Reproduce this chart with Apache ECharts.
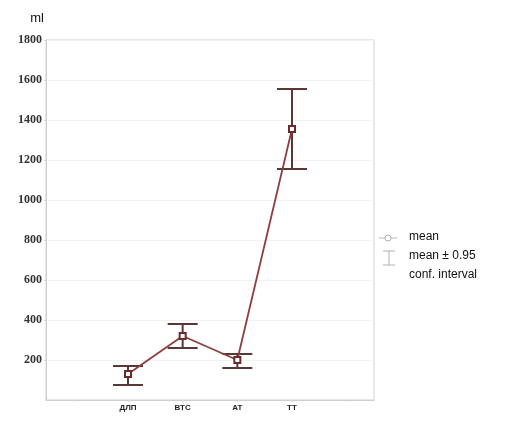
<!DOCTYPE html>
<html><head><meta charset="utf-8">
<script src="https://cdn.jsdelivr.net/npm/echarts@6/dist/echarts.min.js"></script>
<style>html,body{margin:0;padding:0;background:#fff}#c{width:508px;height:424px}</style>
</head><body><div id="c"></div>
<script>
const categories = ['', 'ДЛП', 'ВТС', 'АТ', 'ТТ', ''];
const meanValues = [null, 130, 320, 200, 1355, null];
const lowerCI = [null, 75, 260, 160, 1155, null];
const upperCI = [null, 170, 380, 230, 1555, null];
const yTicks = [200, 400, 600, 800, 1000, 1200, 1400, 1600, 1800];
const legendLabels = ['mean', 'mean ± 0.95', 'conf. interval'];

const errData = [];
for (let i = 0; i < categories.length; i++) {
  if (meanValues[i] != null) errData.push([i, lowerCI[i], upperCI[i]]);
}

const chart = echarts.init(document.getElementById('c'));
const legendFont = { fill: '#111', fontFamily: 'Liberation Sans', fontSize: 12 };
chart.setOption({
  animation: false,
  backgroundColor: '#fff',
  grid: { left: 46, right: 134, top: 40, bottom: 24, show: true, borderColor: '#d0d0d0', borderWidth: 1 },
  xAxis: {
    type: 'category', data: categories, boundaryGap: true,
    axisLine: { lineStyle: { color: '#cfcfcf' } },
    axisTick: { show: true, alignWithLabel: true, length: 2, lineStyle: { color: '#ddd' } },
    axisLabel: { color: '#222', fontFamily: 'Liberation Sans', fontSize: 8, fontWeight: 'bold', margin: 4, interval: 0 },
    splitLine: { show: false }
  },
  yAxis: {
    type: 'value', min: 0, max: 1800, interval: 200,
    name: 'ml', nameLocation: 'end', nameGap: 15,
    nameTextStyle: { color: '#111', fontFamily: 'Liberation Sans', fontSize: 13, align: 'right', padding: [0, 2, 0, 0] },
    axisLine: { show: true, lineStyle: { color: '#cfcfcf' } },
    axisTick: { show: true, length: 2, lineStyle: { color: '#ddd' } },
    axisLabel: {
      color: '#333', fontFamily: 'Liberation Serif', fontSize: 12, fontWeight: 'bold', margin: 4,
      showMinLabel: false,
      formatter: v => yTicks.indexOf(v) >= 0 ? String(v) : ''
    },
    splitLine: { show: true, lineStyle: { color: '#f2f2f2' } }
  },
  graphic: [
    { type: 'line', shape: { x1: 379, y1: 238, x2: 385, y2: 238 }, style: { stroke: '#b8b8b8', lineWidth: 1 } },
    { type: 'line', shape: { x1: 391, y1: 238, x2: 397, y2: 238 }, style: { stroke: '#b8b8b8', lineWidth: 1 } },
    { type: 'circle', shape: { cx: 388, cy: 238, r: 3 }, style: { fill: '#fff', stroke: '#b0b0b0', lineWidth: 1 } },
    { type: 'line', shape: { x1: 383, y1: 251, x2: 395, y2: 251 }, style: { stroke: '#b0b0b0', lineWidth: 1 } },
    { type: 'line', shape: { x1: 389, y1: 251, x2: 389, y2: 265 }, style: { stroke: '#b0b0b0', lineWidth: 1 } },
    { type: 'line', shape: { x1: 383, y1: 265, x2: 395, y2: 265 }, style: { stroke: '#b0b0b0', lineWidth: 1 } },
    { type: 'text', left: 409, top: 231, style: Object.assign({ text: legendLabels[0] }, legendFont) },
    { type: 'text', left: 409, top: 250, style: Object.assign({ text: legendLabels[1] }, legendFont) },
    { type: 'text', left: 409, top: 269, style: Object.assign({ text: legendLabels[2] }, legendFont) }
  ],
  series: [
    {
      name: 'conf',
      type: 'custom',
      data: errData,
      z: 3,
      renderItem: function (params, api) {
        const x = api.value(0);
        const lo = api.coord([x, api.value(1)]);
        const hi = api.coord([x, api.value(2)]);
        const hw = 15;
        const st = { stroke: '#5a3838', lineWidth: 2 };
        return {
          type: 'group',
          children: [
            { type: 'line', shape: { x1: lo[0], y1: lo[1], x2: hi[0], y2: hi[1] }, style: st },
            { type: 'line', shape: { x1: lo[0] - hw, y1: lo[1], x2: lo[0] + hw, y2: lo[1] }, style: st },
            { type: 'line', shape: { x1: hi[0] - hw, y1: hi[1], x2: hi[0] + hw, y2: hi[1] }, style: st }
          ]
        };
      }
    },
    {
      name: 'mean',
      type: 'line',
      data: meanValues,
      connectNulls: false,
      z: 4,
      symbol: 'emptyRect',
      symbolSize: 6,
      lineStyle: { color: '#8c3f3f', width: 1.8 },
      itemStyle: { color: '#6a2a2a', borderColor: '#6a2a2a', borderWidth: 1.5 }
    }
  ]
});
</script></body></html>
